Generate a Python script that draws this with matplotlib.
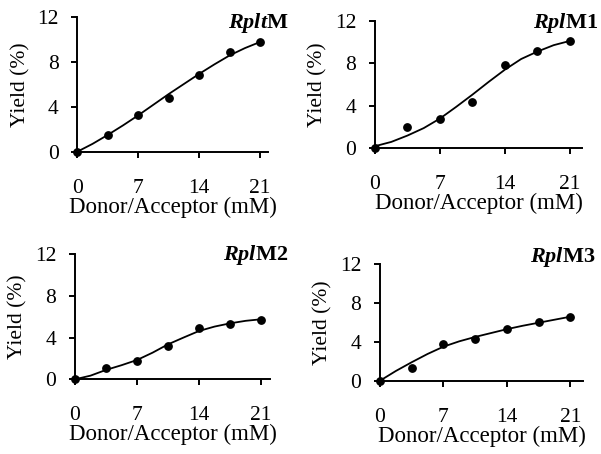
import matplotlib
matplotlib.use("Agg")
import matplotlib.pyplot as plt

plt.rcParams['font.family'] = ['Liberation Serif', 'DejaVu Serif']
plt.rcParams['mathtext.fontset'] = 'custom'
plt.rcParams['mathtext.rm'] = 'Liberation Serif:bold'
plt.rcParams['mathtext.bf'] = 'Liberation Serif:bold'
plt.rcParams['mathtext.it'] = 'Liberation Serif:bold:italic'
plt.rcParams['mathtext.bfit'] = 'Liberation Serif:bold:italic'

# ---- data ----
conc = [0, 3.5, 7, 10.5, 14, 17.5, 21]
fit_x = [0, 1.75, 3.5, 5.25, 7, 8.75, 10.5, 12.25, 14, 15.75, 17.5, 19.25, 21]

titles = [r'$\mathbfit{Rplt}$M', r'$\mathbfit{Rpl}$M1', r'$\mathbfit{Rpl}$M2', r'$\mathbfit{Rpl}$M3']

yield_rpltm = [0, 1.5, 3.25, 4.8, 6.85, 8.9, 9.8]
yield_m1 = [0, 1.97, 2.76, 4.35, 7.86, 9.18, 10.1]
yield_m2 = [0, 1.1, 1.79, 3.15, 4.9, 5.3, 5.7]
yield_m3 = [0, 1.34, 3.77, 4.28, 5.28, 6.0, 6.55]

fit_rpltm = [0, 0.7, 1.5, 2.35, 3.25, 4.2, 5.15, 6.05, 6.95, 7.8, 8.6, 9.25, 9.8]
fit_m1 = [0.2, 0.6, 1.2, 1.9, 2.8, 3.9, 5.05, 6.25, 7.4, 8.4, 9.1, 9.7, 10.1]
fit_m2 = [0, 0.35, 0.9, 1.35, 1.85, 2.55, 3.35, 4.0, 4.63, 5.05, 5.36, 5.6, 5.75]
fit_m3 = [0, 1.0, 1.9, 2.75, 3.5, 4.05, 4.5, 4.9, 5.3, 5.65, 5.96, 6.27, 6.58]

yticks = [0, 4, 8, 12]
xticks = [0, 7, 14, 21]
xlabel = 'Donor/Acceptor (mM)'
ylabel = 'Yield (%)'

series = [(yield_rpltm, fit_rpltm), (yield_m1, fit_m1), (yield_m2, fit_m2), (yield_m3, fit_m3)]

# ---- layout (pixels) ----
W, H = 601, 454
fig = plt.figure(figsize=(W / 100, H / 100), dpi=100)
# left px, right px, top px (y=12), bottom px (y=0), xmax
boxes = [
    (77.3, 268, 17.3, 151.7, 21.9),
    (375, 582, 20.7, 148.3, 22.3),
    (75, 270, 254, 379.3, 22.0),
    (380, 583, 264, 380.7, 22.4),
]
title_pos = [(289, 28), (598, 28), (288, 260), (596, 262)]

for i, (box, (pts, fit)) in enumerate(zip(boxes, series)):
    l, r, t, b, xmax = box
    ax = fig.add_axes([l / W, 1 - b / H, (r - l) / W, (b - t) / H])
    ax.plot(fit_x, fit, color='black', lw=1.3, solid_capstyle='round', clip_on=False)
    ax.plot(conc, pts, 'o', color='black', ms=5.3, clip_on=False)
    ax.set_xlim(0, xmax)
    ax.set_ylim(0, 12)
    ax.set_xticks(xticks)
    ax.set_yticks(yticks)
    for s in ['top', 'right']:
        ax.spines[s].set_visible(False)
    for s in ['left', 'bottom']:
        ax.spines[s].set_linewidth(1.4)
    ax.tick_params(direction='out', length=4.5, width=1.4, labelsize=15.5)
    ax.tick_params(axis='x', pad=15)
    ax.tick_params(axis='y', pad=9)
    ax.set_xlabel(xlabel, fontsize=16.5, labelpad=-1)
    ax.set_ylabel(ylabel, fontsize=15.5, labelpad=5)
    tx, ty = title_pos[i]
    fig.text(tx / W, 1 - ty / H, titles[i], ha='right', va='baseline',
             fontsize=16, fontweight='bold')

fig.savefig('out.png', dpi=100)
